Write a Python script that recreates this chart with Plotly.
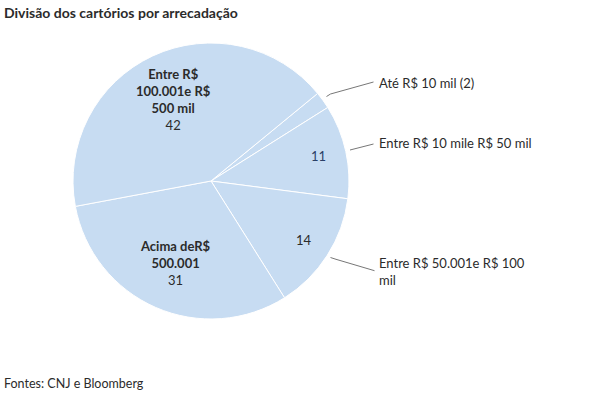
import plotly.graph_objects as go

W, H = 614, 395

# Data
categories = ["Até R$ 10 mil", "Entre R$ 10 mil e R$ 50 mil", "Entre R$ 50.001 e R$ 100 mil",
              "Acima de R$ 500.001", "Entre R$ 100.001 e R$ 500 mil"]
values = [2, 11, 14, 31, 42]

FONT = "Lato"
DARK = "#2b2b2b"
SLICE = "#c7dcf2"

def px(x):
    return x / W

def py(y):
    return 1 - y / H

cx, cy, r = 211, 181, 138

fig = go.Figure(go.Pie(
    labels=categories,
    values=values,
    sort=False,
    direction="clockwise",
    rotation=50.6,
    textinfo="none",
    hoverinfo="label+value",
    marker=dict(colors=[SLICE] * len(values), line=dict(color="white", width=1)),
    domain=dict(x=[px(cx - r), px(cx + r)], y=[py(cy + r), py(cy - r)]),
    showlegend=False,
))

ann = []

def text(x, y, s, size=13, color=DARK, xanchor="center", yanchor="middle", align="center"):
    ann.append(dict(x=px(x), y=py(y), xref="paper", yref="paper", text=s, showarrow=False,
                    xanchor=xanchor, yanchor=yanchor, align=align, borderpad=0,
                    font=dict(family=FONT, size=size, color=color)))

# Title and source
text(3, 12, "<b>Divisão dos cartórios por arrecadação</b>", size=14, xanchor="left")
text(3, 383, "Fontes: CNJ e Bloomberg", size=12.5, xanchor="left")

# Inside labels
text(173, 99, f"<b>Entre R$<br>100.001e R$<br>500 mil</b><br>{values[4]}")
text(175, 262.5, f"<b>Acima deR$<br>500.001</b><br>{values[3]}")
text(318.7, 156, f"{values[1]}", color="#2a3f66")
text(304.3, 240, f"{values[2]}")

# Outside labels
text(378, 82.5, f"Até R$ 10 mil ({values[0]})", xanchor="left")
text(378, 143.5, "Entre R$ 10 mile R$ 50 mil", xanchor="left")
text(378, 271, "Entre R$ 50.001e R$ 100<br>mil", xanchor="left", align="left")

shapes = []
def path(pts):
    d = "M " + " L ".join(f"{px(x)},{py(y)}" for x, y in pts)
    shapes.append(dict(type="path", path=d, xref="paper", yref="paper",
                       line=dict(color="#777777", width=1)))

path([(326.5, 96.5), (330.5, 94), (373.5, 82)])
path([(350, 150), (373.5, 144)])
path([(330.5, 257.5), (336, 259.3), (374.5, 270.7)])

fig.update_layout(
    width=W, height=H,
    margin=dict(l=0, r=0, t=0, b=0),
    paper_bgcolor="white", plot_bgcolor="white",
    annotations=ann, shapes=shapes,
    font=dict(family=FONT, color=DARK),
)

fig.write_html("out.html", config={"displayModeBar": False},
               post_script="document.body.style.margin='0';document.body.style.overflow='hidden';")
